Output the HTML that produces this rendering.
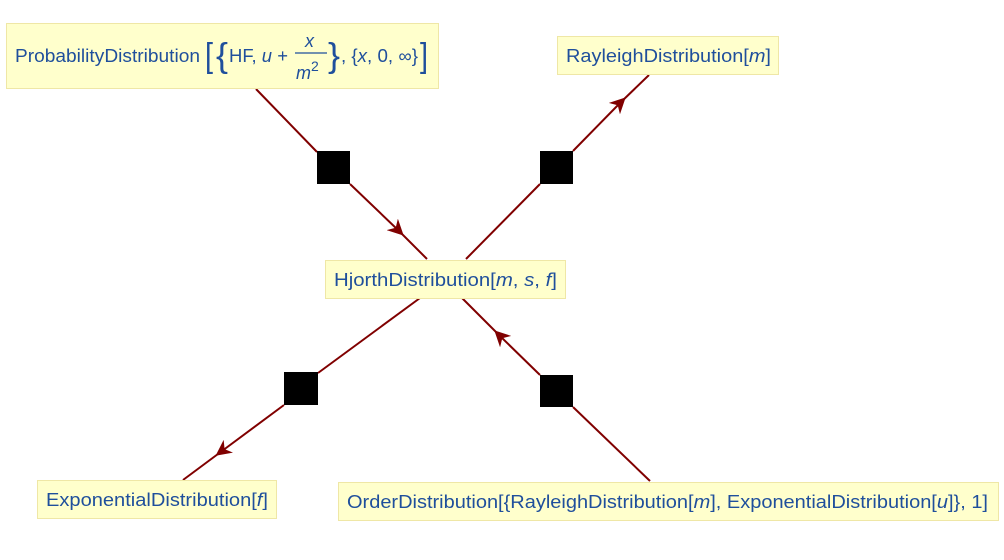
<!DOCTYPE html>
<html><head><meta charset="utf-8"><style>
html,body{margin:0;padding:0;background:#fff;width:1004px;height:560px;overflow:hidden}
svg{display:block}
text{font-family:"Liberation Sans",sans-serif;fill:#1f4f9c;font-size:18px}
.i{font-style:italic}
.b{font-size:34px;font-weight:100}
</style></head><body>
<svg width="1004" height="560" viewBox="0 0 1004 560">
<defs>
<marker id="a" viewBox="0 0 10 10" refX="5" refY="5" markerWidth="16" markerHeight="16" markerUnits="userSpaceOnUse" orient="auto">
<path d="M0,0 L10,5 L0,10 L3,5 Z" fill="#800000"/></marker>
</defs>
<g stroke="#800000" stroke-width="2" fill="none">
<line x1="256" y1="89" x2="317" y2="152"/>
<path d="M350,184 L398,230 L427,259" marker-mid="url(#a)"/>
<line x1="466" y1="259" x2="540" y2="184"/>
<path d="M573,151 L620,103 L649,75" marker-mid="url(#a)"/>
<line x1="420" y1="298" x2="318" y2="373"/>
<path d="M284,405 L222,451 L183,480" marker-mid="url(#a)"/>
<line x1="650" y1="481" x2="573" y2="407"/>
<path d="M540,375 L500,336 L462,298" marker-mid="url(#a)"/>
</g>
<g fill="#000">
<rect x="317" y="151" width="33" height="33"/>
<rect x="540" y="151" width="33" height="33"/>
<rect x="284" y="372" width="34" height="33"/>
<rect x="540" y="375" width="33" height="32"/>
</g>
<g fill="#ffffcc" stroke="#efe7a6" stroke-width="1">
<rect x="6.5" y="23.5" width="432" height="65"/>
<rect x="557.5" y="36.5" width="221" height="38"/>
<rect x="325.5" y="260.5" width="240" height="38"/>
<rect x="37.5" y="480.5" width="239" height="38"/>
<rect x="338.5" y="482.5" width="660" height="38"/>
</g>
<text x="15" y="62" textLength="185" lengthAdjust="spacingAndGlyphs">ProbabilityDistribution</text>
<text x="205" y="67" class="b" textLength="8" lengthAdjust="spacingAndGlyphs">[</text>
<text x="216" y="67" class="b" textLength="12" lengthAdjust="spacingAndGlyphs">{</text>
<text x="229" y="62" textLength="59" lengthAdjust="spacingAndGlyphs">HF, <tspan class="i">u</tspan> +</text>
<text x="305" y="47" class="i">x</text>
<line x1="295" y1="53" x2="327" y2="53" stroke="#1f4f9c" stroke-width="1.2"/>
<text x="296" y="79"><tspan class="i">m</tspan><tspan dy="-8" font-size="14">2</tspan></text>
<text x="328" y="67" class="b" textLength="12" lengthAdjust="spacingAndGlyphs">}</text>
<text x="341" y="62" textLength="77" lengthAdjust="spacingAndGlyphs">, {<tspan class="i">x</tspan>, 0, ∞}</text>
<text x="420" y="67" class="b" textLength="8" lengthAdjust="spacingAndGlyphs">]</text>
<text x="566" y="62" textLength="205" lengthAdjust="spacingAndGlyphs">RayleighDistribution[<tspan class="i">m</tspan>]</text>
<text x="334" y="286" textLength="223" lengthAdjust="spacingAndGlyphs">HjorthDistribution[<tspan class="i">m</tspan>, <tspan class="i">s</tspan>, <tspan class="i">f</tspan>]</text>
<text x="46" y="506" textLength="222" lengthAdjust="spacingAndGlyphs">ExponentialDistribution[<tspan class="i">f</tspan>]</text>
<text x="347" y="508" textLength="641" lengthAdjust="spacingAndGlyphs">OrderDistribution[{RayleighDistribution[<tspan class="i">m</tspan>], ExponentialDistribution[<tspan class="i">u</tspan>]}, 1]</text>
</svg>
</body></html>
